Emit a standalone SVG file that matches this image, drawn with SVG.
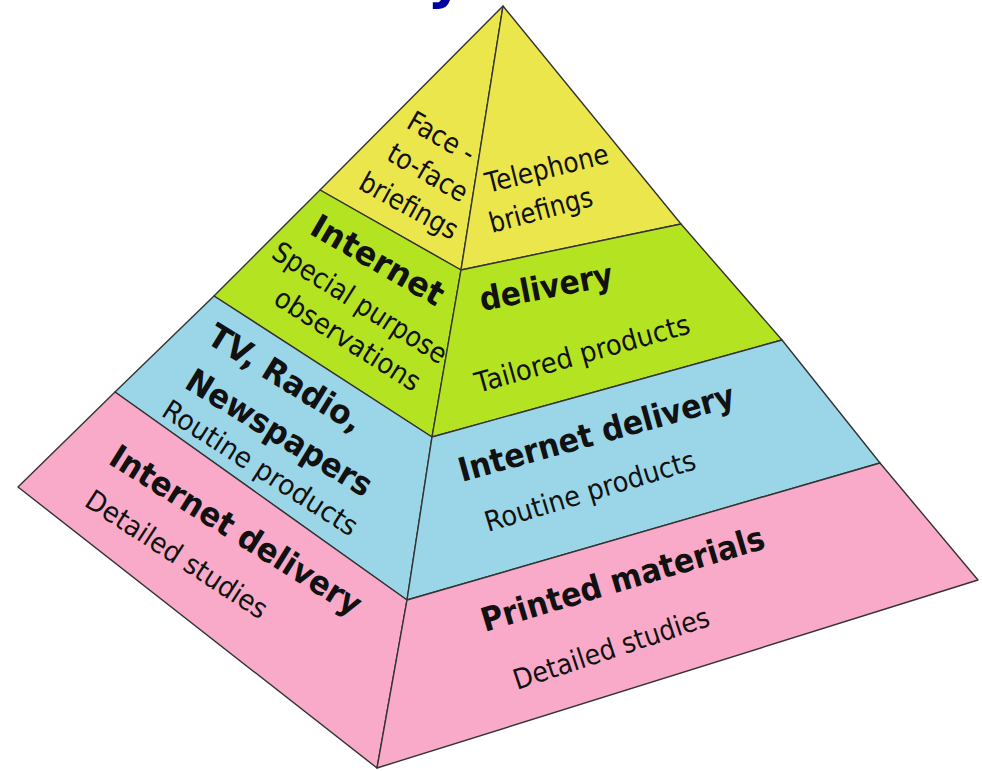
<svg xmlns="http://www.w3.org/2000/svg" width="982" height="771" viewBox="0 0 982 771">
<style>
.face{stroke:#333333;stroke-width:1.4;stroke-linejoin:round}
.y{fill:#EAE64C}.g{fill:#B4E322}.b{fill:#9BD6E8}.p{fill:#F9AAC8}
text{font-family:"DejaVu Sans","Verdana","Liberation Sans",sans-serif;fill:#111}
.r{font-size:28px}
.bd{font-size:33px;font-weight:bold}
</style>
<rect width="982" height="771" fill="#ffffff"/>
<text x="427" y="-3" style="font-size:58px;font-weight:bold;fill:#0000A0">y</text>
<g id="tier-top">
<polygon class="face y" points="503,6 461,270 320,190"/>
<polygon class="face y" points="503,6 681,224 461,270"/>
<text class="r" transform="translate(405,127) rotate(30)" textLength="73" lengthAdjust="spacingAndGlyphs">Face -</text>
<text class="r" transform="translate(385,159) rotate(30)" textLength="88" lengthAdjust="spacingAndGlyphs">to-face</text>
<text class="r" transform="translate(357,188) rotate(29)" textLength="108" lengthAdjust="spacingAndGlyphs">briefings</text>
<text class="r" transform="translate(488,193) rotate(-14)" textLength="126" lengthAdjust="spacingAndGlyphs">Telephone</text>
<text class="r" transform="translate(492,233) rotate(-15)" textLength="106" lengthAdjust="spacingAndGlyphs">briefings</text>
</g>
<g id="tier-2">
<polygon class="face g" points="320,190 461,270 432,437 214,296"/>
<polygon class="face g" points="461,270 681,224 782,340 432,437"/>
<text class="bd" transform="translate(308,233) rotate(30)" textLength="148" lengthAdjust="spacingAndGlyphs">Internet</text>
<text class="r" transform="translate(270,257) rotate(32.4)" textLength="201" lengthAdjust="spacingAndGlyphs">Special purpose</text>
<text class="r" transform="translate(272,303) rotate(32.3)" textLength="167" lengthAdjust="spacingAndGlyphs">observations</text>
<text class="bd" transform="translate(482,311) rotate(-11)" textLength="135" lengthAdjust="spacingAndGlyphs">delivery</text>
<text class="r" transform="translate(478,393) rotate(-15.7)" textLength="222" lengthAdjust="spacingAndGlyphs">Tailored products</text>
</g>
<g id="tier-3">
<polygon class="face b" points="214,296 432,437 407,600 115,392"/>
<polygon class="face b" points="432,437 782,340 880,463 407,600"/>
<text class="bd" transform="translate(205,342) rotate(31.5)" textLength="175" lengthAdjust="spacingAndGlyphs">TV, Radio,</text>
<text class="bd" transform="translate(183,387) rotate(31.5)" textLength="212" lengthAdjust="spacingAndGlyphs">Newspapers</text>
<text class="r" transform="translate(160,415) rotate(32.7)" textLength="226" lengthAdjust="spacingAndGlyphs">Routine products</text>
<text class="bd" transform="translate(462,482) rotate(-15.5)" textLength="285" lengthAdjust="spacingAndGlyphs">Internet delivery</text>
<text class="r" transform="translate(488,532) rotate(-16.8)" textLength="219" lengthAdjust="spacingAndGlyphs">Routine products</text>
</g>
<g id="tier-base">
<polygon class="face p" points="115,392 407,600 377,768 18,487"/>
<polygon class="face p" points="407,600 880,463 978,580 377,768"/>
<text class="bd" transform="translate(107,463) rotate(32)" textLength="290" lengthAdjust="spacingAndGlyphs">Internet delivery</text>
<text class="r" transform="translate(83,505) rotate(33)" textLength="211" lengthAdjust="spacingAndGlyphs">Detailed studies</text>
<text class="bd" transform="translate(485,632) rotate(-16.6)" textLength="294" lengthAdjust="spacingAndGlyphs">Printed materials</text>
<text class="r" transform="translate(517,690) rotate(-18.4)" textLength="205" lengthAdjust="spacingAndGlyphs">Detailed studies</text>
</g>
<g id="connectors"></g>
</svg>
